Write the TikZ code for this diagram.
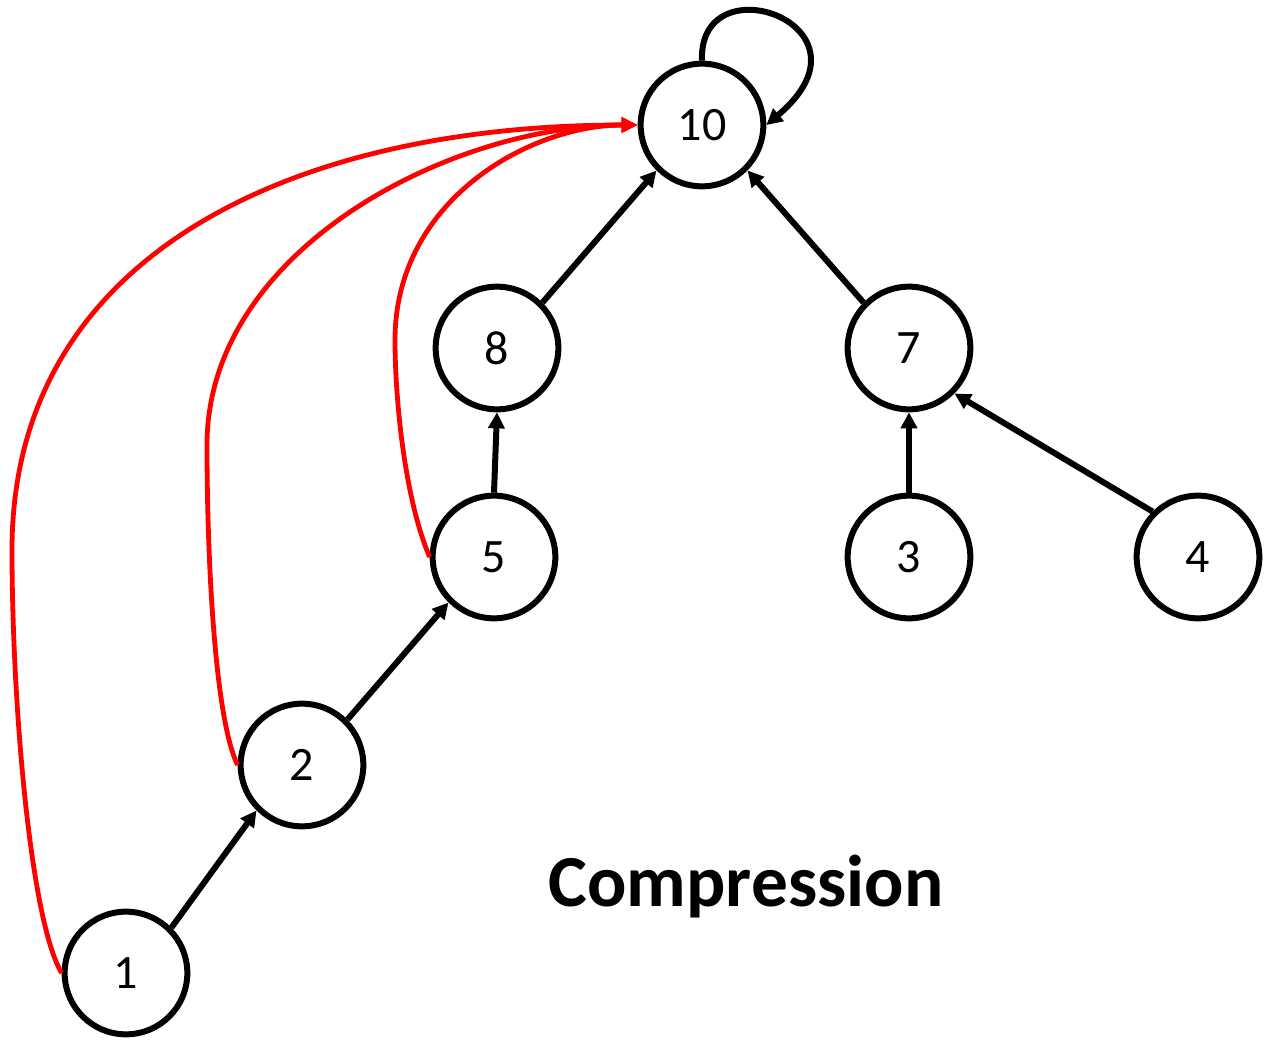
\documentclass[tikz,border=0pt]{standalone}
\usepackage{fontspec}
\setmainfont{Carlito}
\usetikzlibrary{arrows.meta}
\begin{document}
\begin{tikzpicture}[x=0.75pt,y=-0.75pt,
  vert/.style={circle,draw,line width=4.5pt,minimum size=92pt,inner sep=0pt,font=\fontsize{36}{39}\selectfont},
  blk/.style={line width=4.5pt,-{Triangle[length=12pt,width=12pt]}},
  redarc/.style={red,line width=3.6pt,-{Triangle[length=12pt,width=11pt]}}]
\path[use as bounding box] (0,0) rectangle (1268,1046);

\node[vert] (n10) at (702,125) {10};
\node[vert] (n8) at (497,348) {8};
\node[vert] (n7) at (909,348) {7};
\node[vert] (n5) at (494,557) {5};
\node[vert] (n3) at (909,557) {3};
\node[vert] (n4) at (1198,557) {4};
\node[vert] (n2) at (302,765) {2};
\node[vert] (n1) at (126,973) {1};

\node[font=\bfseries\fontsize{55}{60}\selectfont] (title) at (746,887) {Compression};

% tree edges
\draw[blk] (n8.45) -- (n10.225);
\draw[blk] (n7.135) -- (n10.-45);
\draw[blk] (n5.north) -- (n8.south);
\draw[blk] (n3.north) -- (n7.south);
\draw[blk] (n4.135) -- (n7.-45);
\draw[blk] (n2.45) -- (n5.225);
\draw[blk] (n1.45) -- (n2.225);

% root points to itself
\draw[blk] (n10.north) .. controls (698,-40) and (885,25) .. (n10.east);

% compressed paths straight to the root
\draw[redarc] (n1.west) .. controls (30,920) and (12,700) .. (12,550)
  .. controls (12,250) and (300,125) .. (n10.west);
\draw[redarc] (n2.west) .. controls (215,720) and (207,560) .. (207,445)
  .. controls (207,250) and (450,125) .. (n10.west);
\draw[redarc] (n5.west) .. controls (405,500) and (395,400) .. (395,340)
  .. controls (395,200) and (530,125) .. (n10.west);
\end{tikzpicture}
\end{document}
